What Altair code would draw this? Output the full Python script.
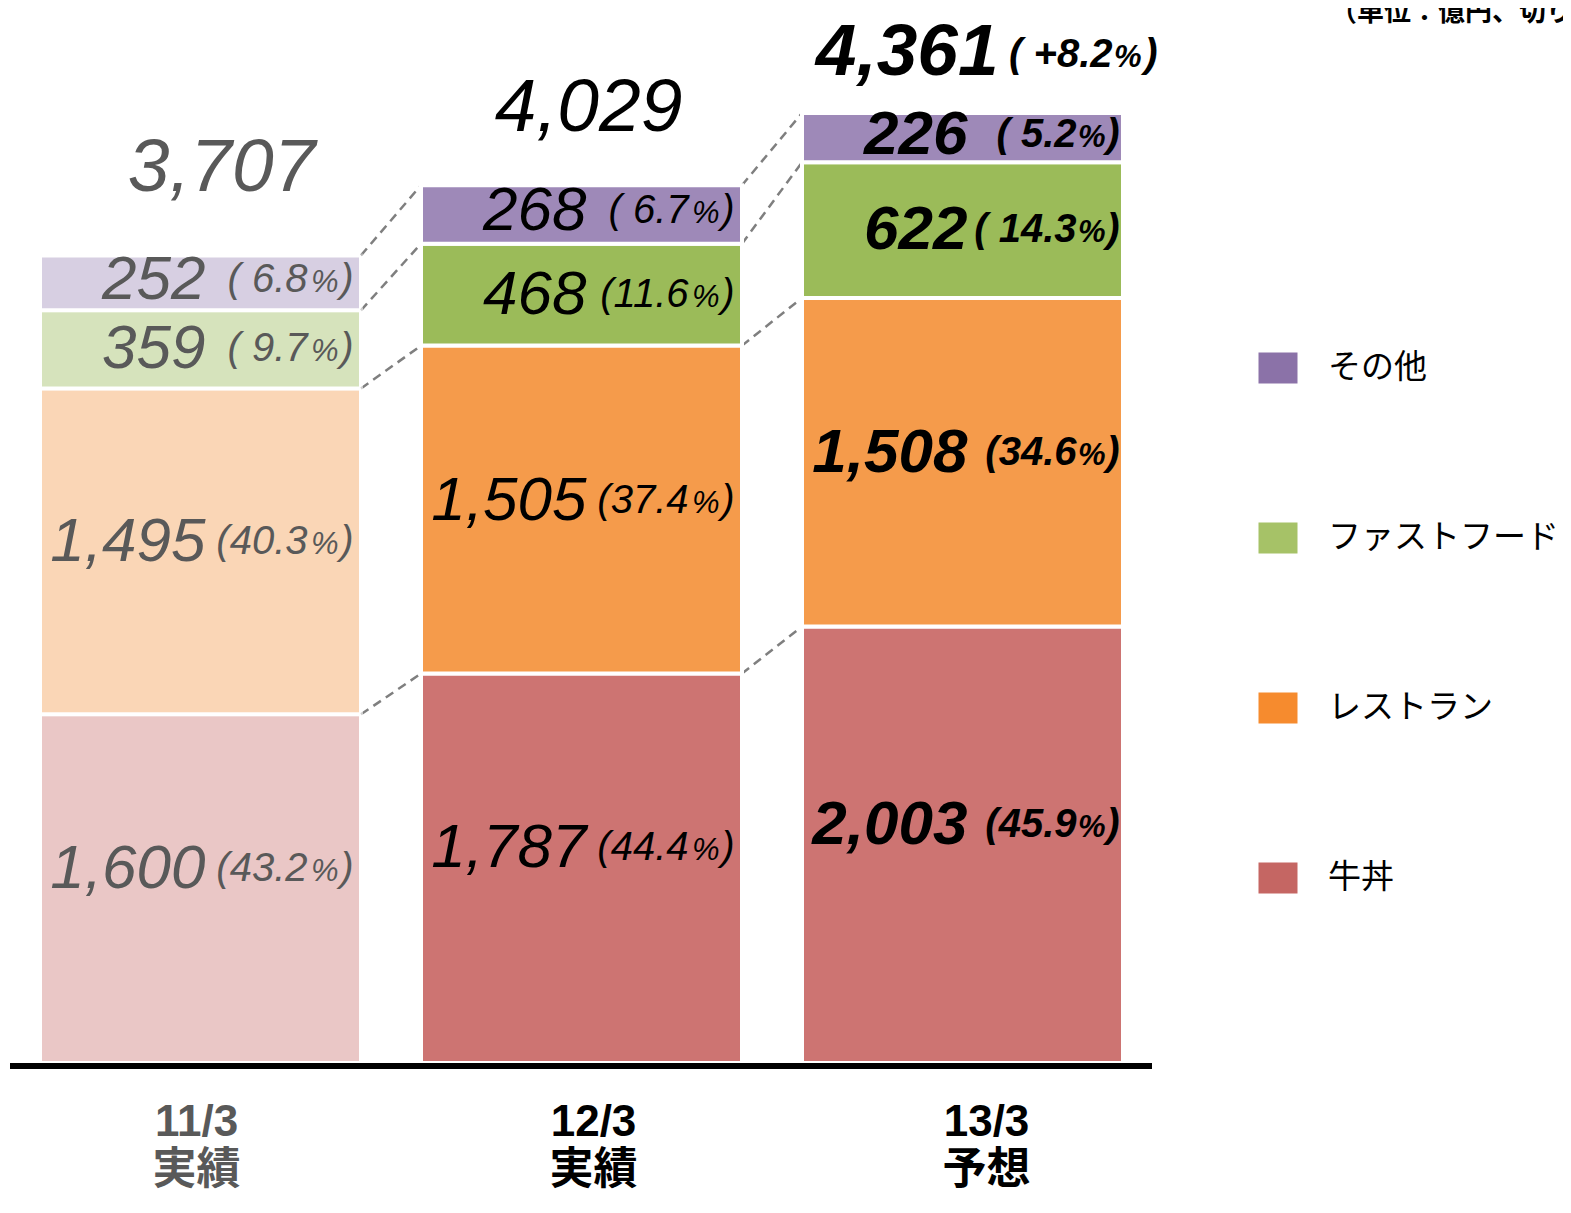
import altair as alt
import pandas as pd

# ---------------- data ----------------
periods = ["11/3", "12/3", "13/3"]
period_kind = ["実績", "実績", "予想"]
categories = ["牛丼", "レストラン", "ファストフード", "その他"]  # bottom -> top
gyudon = [1600, 1787, 2003]
restaurant = [1495, 1505, 1508]
fastfood = [359, 468, 622]
others = [252, 268, 226]
gyudon_share = ["(43.2", "(44.4", "(45.9"]
restaurant_share = ["(40.3", "(37.4", "(34.6"]
fastfood_share = ["( 9.7", "(11.6", "( 14.3"]
others_share = ["( 6.8", "( 6.7", "( 5.2"]
total_labels = ["3,707", "4,029", "4,361"]
growth_labels = ["", "", "( +8.2"]
legend_order = ["その他", "ファストフード", "レストラン", "牛丼"]
unit_note = "（単位：億円、切り捨て）"

# ---------------- styles ----------------
FONT = "Liberation Sans"
JP = "Noto Sans CJK JP"
BAR_COLORS = {"牛丼": "#CD7472", "レストラン": "#F59B4B", "ファストフード": "#9BBB59", "その他": "#9E89B8"}
LEGEND_COLORS = {"牛丼": "#C56663", "レストラン": "#F68B2E", "ファストフード": "#A6C267", "その他": "#8B72A8"}
CAT_DY = {"牛丼": -20, "レストラン": -9, "ファストフード": 0, "その他": -3}
PERIOD_STYLE = [
    dict(color="#595959", weight="normal", pct=107, pctsign=138, paren=153, tot_dx=115, tot_dy=-87, tot_size=75, cat_dx=-4),
    dict(color="#000000", weight="normal", pct=107, pctsign=138, paren=153, tot_dx=101, tot_dy=-77, tot_size=75, cat_dx=12),
    dict(color="#000000", weight="bold", pct=114, pctsign=143, paren=157, tot_dx=36, tot_dy=-60, tot_size=73, cat_dx=24),
]

# ---------------- tables ----------------
vals = {"牛丼": gyudon, "レストラン": restaurant, "ファストフード": fastfood, "その他": others}
shares = {"牛丼": gyudon_share, "レストラン": restaurant_share, "ファストフード": fastfood_share, "その他": others_share}
rows = []
for j, p in enumerate(periods):
    cum = 0
    for c in categories:
        v = vals[c][j]
        rows.append(dict(period=p, cat=c, value=v, start=cum, end=cum + v, mid=cum + v / 2,
                         num=f"{v:,}", pct=shares[c][j]))
        cum += v
seg = pd.DataFrame(rows)

tops = seg.groupby("period", sort=False)["end"].max()
tot = pd.DataFrame(dict(period=periods, top=[tops[p] for p in periods], label=total_labels,
                        growth=growth_labels, kind=period_kind,
                        cat_label=[[p, k] for p, k in zip(periods, period_kind)]))

conn_rows = []
for j in range(len(periods) - 1):
    for c in categories:
        a = seg[(seg.period == periods[j]) & (seg.cat == c)]["end"].iloc[0]
        b = seg[(seg.period == periods[j + 1]) & (seg.cat == c)]["end"].iloc[0]
        conn_rows.append(dict(frm=periods[j], to=periods[j + 1], y=a, y2=b))
conn = pd.DataFrame(conn_rows)

leg = pd.DataFrame(dict(cat=legend_order, color=[LEGEND_COLORS[c] for c in legend_order]))

# ---------------- scales ----------------
xs = alt.Scale(domain=periods, range=[32, 1115], paddingInner=0.1575, paddingOuter=0)
ys = alt.Scale(domain=[0, 4800], range=[1055, 9])
X = alt.X("period:N", scale=xs, axis=None)

layers = []

# connectors
layers.append(
    alt.Chart(conn).mark_rule(color="#7F7F7F", strokeWidth=2.5, strokeDash=[9, 6]).encode(
        x=alt.X("frm:N", scale=xs, axis=None, bandPosition=1),
        x2=alt.X2("to:N", bandPosition=0),
        y=alt.Y("y:Q", scale=ys, axis=None),
        y2="y2:Q",
    )
)

# bars
layers.append(
    alt.Chart(seg).mark_bar(stroke="white", strokeWidth=4).encode(
        x=X,
        y=alt.Y("start:Q", scale=ys, axis=None),
        y2="end:Q",
        color=alt.Color("cat:N", scale=alt.Scale(domain=categories, range=[BAR_COLORS[c] for c in categories]), legend=None),
        opacity=alt.condition(alt.datum.period == periods[0], alt.value(0.4), alt.value(1.0)),
    )
)

# baseline
layers.append(
    alt.Chart(pd.DataFrame(dict(y=[0]))).mark_rule(color="black", strokeWidth=6).encode(
        y=alt.value(1058), x=alt.value(2), x2=alt.value(1144)
    )
)

# segment labels
for j, p in enumerate(periods):
    st = PERIOD_STYLE[j]
    common = dict(font=FONT, fontStyle="italic", fontWeight=st["weight"], color=st["color"], align="right")
    for c in categories:
        dy = CAT_DY[c]
        base = alt.Chart(seg).transform_filter((alt.datum.period == p) & (alt.datum.cat == c))
        enc = dict(x=X, y=alt.Y("mid:Q", scale=ys, axis=None))
        layers.append(base.mark_text(baseline="middle", dx=5, dy=dy, fontSize=62, **common).encode(text="num:N", **enc))
        layers.append(base.mark_text(baseline="middle", dx=st["pct"], dy=dy, fontSize=40, **common).encode(text="pct:N", **enc))
        layers.append(base.mark_text(baseline="alphabetic", dx=st["pctsign"], dy=dy + 12, fontSize=31, **common).encode(text=alt.value("%"), **enc))
        layers.append(base.mark_text(baseline="middle", dx=st["paren"], dy=dy, fontSize=40, **common).encode(text=alt.value(")"), **enc))

    # totals
    tb = alt.Chart(tot).transform_filter(alt.datum.period == p)
    tenc = dict(x=X, y=alt.Y("top:Q", scale=ys, axis=None))
    layers.append(tb.mark_text(baseline="middle", dx=st["tot_dx"], dy=st["tot_dy"], fontSize=st["tot_size"], **common).encode(text="label:N", **tenc))
    if growth_labels[j]:
        layers.append(tb.mark_text(baseline="middle", dx=150, dy=st["tot_dy"] + 2, fontSize=40, **common).encode(text="growth:N", **tenc))
        layers.append(tb.mark_text(baseline="alphabetic", dx=179, dy=st["tot_dy"] + 14, fontSize=31, **common).encode(text=alt.value("%"), **tenc))
        layers.append(tb.mark_text(baseline="middle", dx=195, dy=st["tot_dy"] + 2, fontSize=40, **common).encode(text=alt.value(")"), **tenc))

    # category labels (two lines)
    layers.append(tb.mark_text(baseline="alphabetic", align="center", dx=st["cat_dx"], font=f"{FONT}, {JP}", fontWeight="bold",
                               fontSize=44, lineHeight=48, color=st["color"]).encode(x=X, y=alt.value(1128), text="cat_label"))

# legend
ly = alt.Y("cat:N", scale=alt.Scale(domain=legend_order, range=[360, 870], padding=0), axis=None)
layers.append(
    alt.Chart(leg).mark_point(shape="M-1,-0.8H1V0.8H-1Z", filled=True, size=1521, opacity=1, strokeWidth=0).encode(
        x=alt.value(1270), y=ly, color=alt.Color("color:N", scale=None)
    )
)
layers.append(
    alt.Chart(leg).mark_text(align="left", baseline="middle", font=JP, fontSize=33, color="black").encode(
        x=alt.value(1320), y=ly, text="cat:N"
    )
)

# unit note
layers.append(
    alt.Chart(pd.DataFrame(dict(t=[unit_note]))).mark_text(align="left", baseline="middle", font=JP, fontSize=27,
                                                          fontWeight="bold", color="black").encode(
        x=alt.value(1322), y=alt.value(5), text="t:N"
    )
)

chart = (
    alt.layer(*layers)
    .resolve_scale(y="independent", color="independent")
    .properties(width=1555, height=1190, padding=0, autosize=alt.AutoSizeParams(type="none"))
    .configure_view(stroke=None)
)

chart.save("out.html", embed_options={"renderer": "svg", "actions": False})
